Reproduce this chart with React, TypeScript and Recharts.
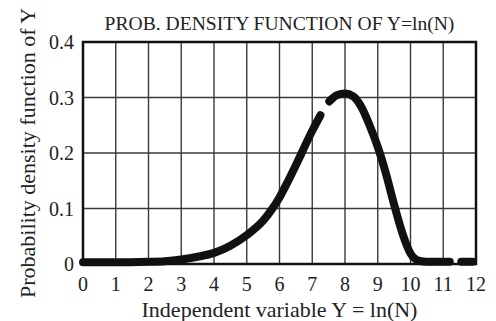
import { LineChart, Line, XAxis, YAxis, CartesianGrid, ReferenceArea } from 'recharts'

// Y = ln(N) sample positions, null density marks the gaps in the plotted curve
const yPositions = [
  0, 1, 2, 2.5, 3, 3.5, 4, 4.5, 5, 5.5, 5.75, 6, 6.25, 6.5, 7, 7.25, 7.38,
  7.52, 7.75, 8, 8.25, 8.5, 8.75, 9, 9.25, 9.5, 9.75, 10, 10.25, 10.5, 11, 11.2, 11.38,
  11.55, 11.9
]
const densities: (number | null)[] = [
  0.003, 0.003, 0.004, 0.005, 0.008, 0.013, 0.02, 0.033, 0.052, 0.078, 0.097, 0.12, 0.148, 0.178, 0.24, 0.268, null,
  0.293, 0.304, 0.307, 0.302, 0.283, 0.25, 0.211, 0.163, 0.107, 0.056, 0.019, 0.006, 0.004, 0.004, 0.004, null,
  0.004, 0.004
]

const xTicks = [0, 1, 2, 3, 4, 5, 6, 7, 8, 9, 10, 11, 12]
const yTicks = [0, 0.1, 0.2, 0.3, 0.4]

const title = 'PROB. DENSITY FUNCTION OF Y=ln(N)'
const xTitle = 'Independent variable Y = ln(N)'
const yTitle = 'Probability density function of Y'

const font = '"Liberation Serif", "Times New Roman", serif'

const data = yPositions.map((x, i) => ({ x, pdf: densities[i] }))

export default function App() {
  return (
    <div style={{ position: 'absolute', left: 0, top: 0, width: 496, height: 321, background: '#fff', fontFamily: font }}>
      <div
        style={{
          position: 'absolute',
          left: 83,
          width: 393,
          top: 12,
          textAlign: 'center',
          fontSize: 19.6,
          lineHeight: '24px',
          color: '#222'
        }}
      >
        {title}
      </div>
      <LineChart width={496} height={321} data={data} margin={{ top: 42, right: 20, bottom: 0, left: 0 }}>
        <CartesianGrid stroke="#3a3a3a" strokeWidth={1.4} />
        <XAxis
          dataKey="x"
          type="number"
          domain={[0, 12]}
          ticks={xTicks}
          interval={0}
          height={57}
          tickSize={0}
          tickMargin={13}
          axisLine={false}
          tick={{ fontSize: 20, fill: '#222', fontFamily: font }}
          label={{ value: xTitle, position: 'center', dy: 17, fontSize: 22, fill: '#222', fontFamily: font }}
        />
        <YAxis
          type="number"
          domain={[0, 0.4]}
          ticks={yTicks}
          width={83}
          tickSize={0}
          tickMargin={9}
          axisLine={false}
          tickFormatter={(v: number) => (v === 0 ? '0' : v.toFixed(1))}
          tick={{ fontSize: 20, fill: '#222', fontFamily: font }}
          label={{ value: yTitle, angle: -90, position: 'center', dx: -14, fontSize: 22, fill: '#222', fontFamily: font }}
        />
        <ReferenceArea x1={0} x2={12} y1={0} y2={0.4} fill="none" stroke="#111" strokeWidth={2.5} ifOverflow="visible" />
        <Line
          type="monotone"
          dataKey="pdf"
          stroke="#111"
          strokeWidth={8}
          strokeLinecap="round"
          strokeLinejoin="round"
          dot={false}
          activeDot={false}
          connectNulls={false}
          isAnimationActive={false}
        />
      </LineChart>
    </div>
  )
}
